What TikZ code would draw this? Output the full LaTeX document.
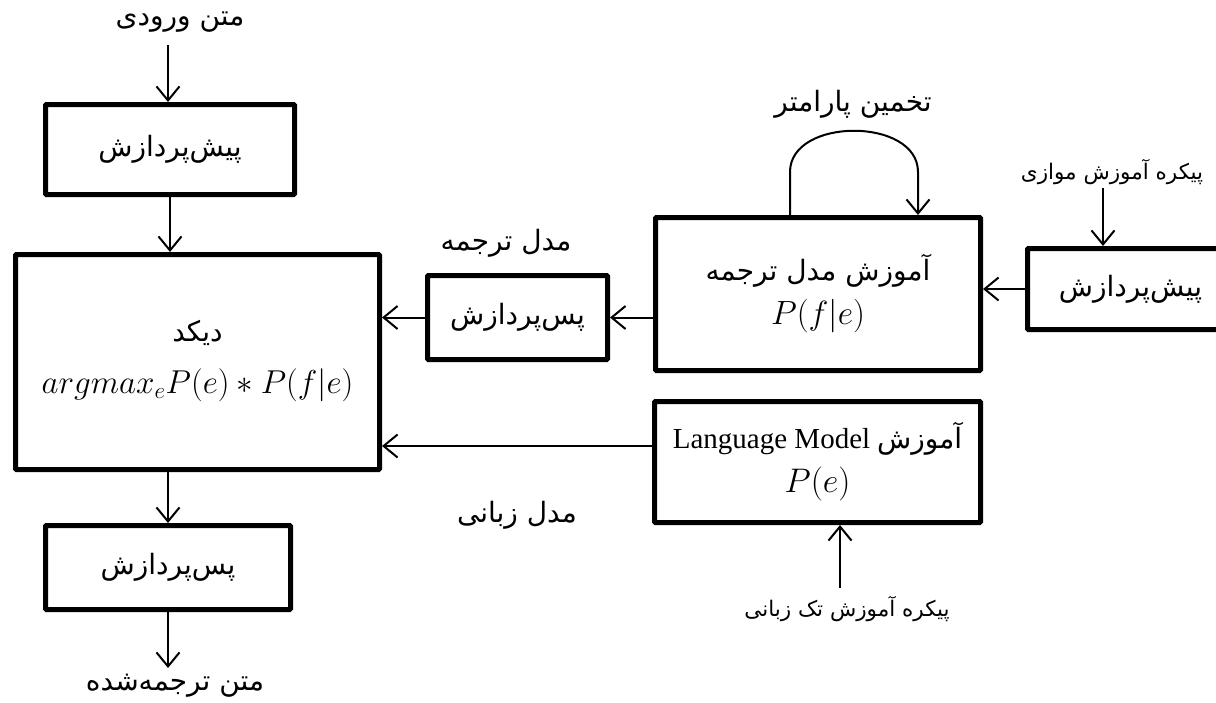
\documentclass[tikz,border=0pt]{standalone}
\usepackage{fontspec}
\setmainfont{Liberation Serif}
\newfontfamily\fa[Script=Arabic]{DejaVu Sans}
\TeXXeTstate=1
\usetikzlibrary{arrows.meta}
\newcommand{\fat}[1]{{\fa\beginR #1\endR}}
\newcommand{\mymath}[2]{{\fontsize{24}{30}\selectfont\scalebox{#1}{$#2$}}}
\begin{document}
\begin{tikzpicture}[x=1pt,y=-1pt,
  box/.style={draw,line width=5pt,rounded corners=1pt,inner sep=0pt,align=center,
    font=\fontsize{28}{44}\selectfont},
  arr/.style={line width=2pt,-{Straight Barb[length=14pt,width=23pt]}},
  lbl/.style={inner sep=0pt,font=\fontsize{28}{34}\selectfont},
  slbl/.style={inner sep=0pt,font=\fontsize{21.5}{26}\selectfont}]
\clip (0,0) rectangle (1216,702);
% boxes
\node[box,minimum width=249pt,minimum height=90pt] (pre1) at (170,149.5) {\fat{پیش‌پردازش}};
\node[box,minimum width=364pt,minimum height=215pt] (dec) at (197.5,362)
  {\mbox{}\\[-24pt]\fat{دیکد}\\[8pt] \mymath{1.33}{argmax_eP(e)\ast P(f|e)}};
\node[box,minimum width=245pt,minimum height=84pt] (post1) at (168,567.5) {\fat{پس‌پردازش}};
\node[box,minimum width=180pt,minimum height=84pt] (mpost) at (517.5,317.5) {\fat{پس‌پردازش}};
\node[box,minimum width=325pt,minimum height=153pt] (train) at (818,294)
  {\fat{آموزش مدل ترجمه}\\ \mymath{1.35}{P(f|e)}};
\node[box,minimum width=206pt,minimum height=81pt] (rpre) at (1130.5,289) {\fat{پیش‌پردازش}};
\node[box,minimum width=326pt,minimum height=121pt] (lm) at (817.5,462)
  {{\fontsize{29}{34}\selectfont Language Model} \fat{آموزش}\\ \mymath{1.37}{P(e)}};
% labels
\node[lbl] (inl) at (180,22) {\fat{متن ورودی}};
\node[lbl] (outl) at (175,686) {\fat{متن ترجمه‌شده}};
\node[lbl] (tml) at (506,243) {\fat{مدل ترجمه}};
\node[lbl] (lml) at (517,515) {\fat{مدل زبانی}};
\node[lbl] (estl) at (853,104) {\fat{تخمین پارامتر}};
\node[slbl] (parl) at (1112,172) {\fat{پیکره آموزش موازی}};
\node[slbl] (monol) at (847,609) {\fat{پیکره آموزش تک زبانی}};
% coordinates
\coordinate (inA) at (168,45);
\coordinate (outA) at (168,668);
\coordinate (lmy) at (0,446);
\coordinate (lpL) at (790,172);
\coordinate (lpR) at (918,172);
\coordinate (parA) at (1103,188);
\coordinate (monoA) at (840,588);
% connectors
\draw[arr] (inA) -- (inA |- pre1.north);
\draw[arr] (pre1.south) -- (pre1.south |- dec.north);
\draw[arr] (dec.south -| post1.north) -- (post1.north);
\draw[arr] (post1.south) -- (outA);
\draw[arr] (train.west |- mpost.west) -- (mpost.east);
\draw[arr] (mpost.west) -- (dec.east |- mpost.west);
\draw[arr] (rpre.west) -- (train.east |- rpre.west);
\draw[arr] (lm.west |- lmy) -- (dec.east |- lmy);
\draw[arr] (train.north -| lpL) -- (lpL) .. controls +(0,-55) and +(0,-55) .. (lpR) -- (lpR |- train.north);
\draw[arr] (parA) -- (parA |- rpre.north);
\draw[arr] (monoA) -- (monoA |- lm.south);
\end{tikzpicture}
\end{document}
